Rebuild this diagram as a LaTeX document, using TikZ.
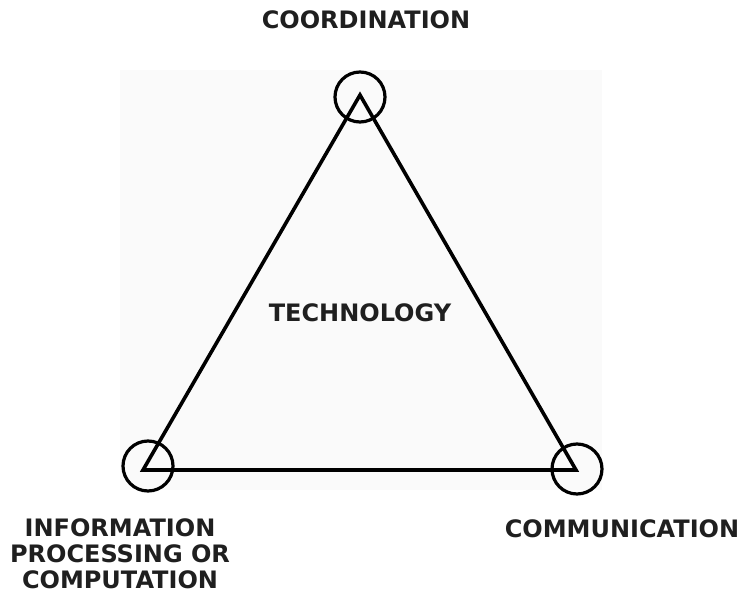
\documentclass[tikz,border=0pt]{standalone}
\usepackage{fontspec}
\setmainfont{DejaVu Sans}
\tikzset{
  ring/.style={circle, draw, line width=2.4pt, minimum size=37.5pt, inner sep=0pt},
  lbl/.style={font=\bfseries\fontsize{18}{19}\selectfont, text=black!88, align=center},
}
\begin{document}
\begin{tikzpicture}[x=0.75pt, y=-0.75pt]
  \useasboundingbox (0,0) rectangle (744,596);
  % faint scanned backdrop behind the triangle
  \fill[black!2] (120,70) rectangle (602,490);

  \coordinate (top) at (360,95);
  \coordinate (left) at (143,470);
  \coordinate (right) at (576,470);
  \draw[line width=2.7pt, line join=miter] (top) -- (right) -- (left) -- cycle;

  \node[ring] (topring) at (360,97) {};
  \node[ring] (leftring) at (148,466) {};
  \node[ring] (rightring) at (577,469) {};

  \node[lbl] (coord) at (366,20) {COORDINATION};
  \node[lbl] (tech) at (360,313) {TECHNOLOGY};
  \node[lbl] (comm) at (622,529) {COMMUNICATION};
  \node[lbl] (info) at (120,554) {INFORMATION\\[0.5pt] PROCESSING OR\\[0.5pt] COMPUTATION};
\end{tikzpicture}
\end{document}
